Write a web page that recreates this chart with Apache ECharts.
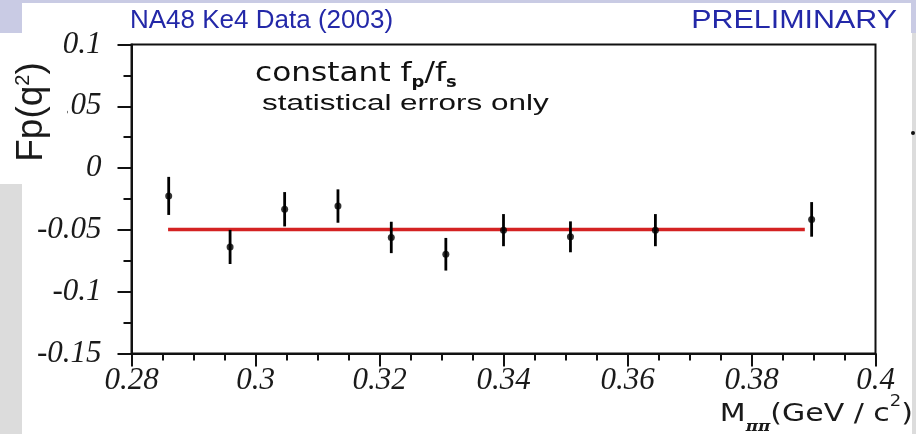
<!DOCTYPE html>
<html>
<head>
<meta charset="utf-8">
<title>NA48 Ke4 Fp(q²)</title>
<script src="https://cdn.jsdelivr.net/npm/echarts@6/dist/echarts.min.js"></script>
<style>
  html, body { margin: 0; padding: 0; background: #ffffff; }
  #chart { width: 916px; height: 434px; }
</style>
</head>
<body>
<div id="chart"></div>
<script>
// Fp form factor vs dipion invariant mass (NA48 Ke4, 2003 data)
const mpp = [0.2860, 0.2959, 0.3047, 0.3133, 0.3219, 0.3307, 0.3400, 0.3508, 0.3645, 0.3897];
const fp = [-0.0225, -0.0638, -0.0333, -0.0307, -0.0561, -0.0697, -0.0502, -0.0556, -0.0502, -0.0415];
const fpErr = [0.0154, 0.0138, 0.0139, 0.0135, 0.0127, 0.0132, 0.0130, 0.0125, 0.0130, 0.0140];

// constant fit of Fp over the fitted mass range
const fitRange = [0.2859, 0.3886];
const fitValue = -0.0496;

const xTickLabels = ['0.28', '0.3', '0.32', '0.34', '0.36', '0.38', '0.4'];
const yTickLabels = ['-0.15', '-0.1', '-0.05', '0', '0.05', '0.1'];

const chart = echarts.init(document.getElementById('chart'), null, { renderer: 'canvas' });

const ink = '#111111';
const tickFont = { fontFamily: 'Liberation Serif', fontStyle: 'italic', fontSize: 31, color: '#1a1a1a' };
const lavender = '#c9cbe4';
const panelGrey = '#dcdcdc';

const option = {
  animation: false,
  backgroundColor: '#ffffff',
  grid: {
    left: 131.5, right: 40.5, top: 44.5, bottom: 80.5,
    show: true, borderColor: ink, borderWidth: 2, backgroundColor: 'transparent'
  },
  xAxis: {
    type: 'value', min: 0.28, max: 0.4, interval: 0.02,
    splitLine: { show: false },
    axisLine: { show: true, onZero: false, lineStyle: { color: ink, width: 2 } },
    axisTick: { show: true, inside: false, length: 13, lineStyle: { color: ink, width: 2 } },
    minorTick: { show: true, splitNumber: 4, length: 7, lineStyle: { color: ink, width: 2 } },
    axisLabel: Object.assign({ margin: 12, formatter: (v, i) => xTickLabels[i] }, tickFont)
  },
  yAxis: {
    type: 'value', min: -0.15, max: 0.1, interval: 0.05,
    splitLine: { show: false },
    axisLine: { show: true, onZero: false, lineStyle: { color: ink, width: 2 } },
    axisTick: { show: true, inside: false, length: 14, lineStyle: { color: ink, width: 2 } },
    minorTick: { show: true, splitNumber: 2, length: 8, lineStyle: { color: ink, width: 2 } },
    axisLabel: Object.assign({ margin: 30, formatter: (v, i) => yTickLabels[i] }, tickFont)
  },
  series: [
    {
      name: 'fit',
      type: 'line',
      data: [[fitRange[0], fitValue], [fitRange[1], fitValue]],
      showSymbol: false,
      lineStyle: { color: '#d42222', width: 3.5 },
      z: 2
    },
    {
      name: 'errors',
      type: 'custom',
      data: mpp.map((x, i) => [x, fp[i] - fpErr[i], fp[i] + fpErr[i]]),
      encode: { x: 0, y: [1, 2] },
      renderItem: (params, api) => {
        const lo = api.coord([api.value(0), api.value(1)]);
        const hi = api.coord([api.value(0), api.value(2)]);
        return {
          type: 'line',
          shape: { x1: lo[0], y1: lo[1], x2: hi[0], y2: hi[1] },
          style: { stroke: '#000000', lineWidth: 2.8 }
        };
      },
      z: 3
    },
    {
      name: 'Fp',
      type: 'scatter',
      data: mpp.map((x, i) => [x, fp[i]]),
      symbol: 'circle',
      symbolSize: 7,
      itemStyle: { color: '#000000' },
      z: 4
    }
  ],
  graphic: [
    // slide frame panels
    { type: 'rect', shape: { x: 0, y: 0, width: 916, height: 3 }, style: { fill: lavender }, z: 0 },
    { type: 'rect', shape: { x: 0, y: 0, width: 22, height: 33 }, style: { fill: lavender }, z: 0 },
    { type: 'rect', shape: { x: 0, y: 184, width: 22, height: 250 }, style: { fill: panelGrey }, z: 0 },
    { type: 'rect', shape: { x: 911, y: 0, width: 5, height: 33 }, style: { fill: lavender }, z: 0 },
    { type: 'rect', shape: { x: 912, y: 33, width: 4, height: 401 }, style: { fill: panelGrey }, z: 0 },
    { type: 'circle', shape: { cx: 913, cy: 133, r: 2 }, style: { fill: '#111111' }, z: 5 },
    // y-axis title backing
    { type: 'rect', shape: { x: 22, y: 82, width: 45, height: 45 }, style: { fill: '#ffffff' }, z: 50 },
    // headings
    {
      type: 'text', x: 130, y: 21, scaleX: 1.0, z: 60,
      style: {
        text: 'NA48 Ke4 Data (2003)', x: 0, y: 0,
        fontFamily: 'Liberation Sans', fontSize: 26,
        fill: '#2328a8', textAlign: 'left', textVerticalAlign: 'middle'
      }
    },
    {
      type: 'text', x: 897, y: 21, scaleX: 1.17, z: 60,
      style: {
        text: 'PRELIMINARY', x: 0, y: 0,
        fontFamily: 'Liberation Sans', fontSize: 26,
        fill: '#2328a8', textAlign: 'right', textVerticalAlign: 'middle'
      }
    },
    // y-axis title
    {
      type: 'text', x: 32, y: 112, rotation: Math.PI / 2, z: 60,
      style: {
        text: 'Fp(q{sup|2})', x: 0, y: 0,
        fontFamily: 'Liberation Sans', fontSize: 37, lineHeight: 37,
        fill: '#1a1a1a', textAlign: 'center', textVerticalAlign: 'middle',
        rich: {
          sup: { fontFamily: 'Liberation Sans', fontSize: 20, lineHeight: 20, verticalAlign: 'top', fill: '#1a1a1a' }
        }
      }
    },
    // x-axis title
    {
      type: 'text', x: 913, y: 394.5, scaleX: 1.2, z: 60,
      style: {
        text: 'M{sub|ππ}(GeV / c{sup|2})', x: 0, y: 0,
        fontFamily: 'DejaVu Sans', fontSize: 25, lineHeight: 40,
        fill: '#1a1a1a', textAlign: 'right', textVerticalAlign: 'top',
        rich: {
          sub: { fontFamily: 'DejaVu Serif', fontStyle: 'italic', fontWeight: 'bold', fontSize: 14, lineHeight: 14, verticalAlign: 'bottom', fill: '#1a1a1a' },
          sup: { fontFamily: 'DejaVu Sans', fontSize: 15, lineHeight: 32, verticalAlign: 'top', fill: '#1a1a1a' }
        }
      }
    },
    // annotations
    {
      type: 'text', x: 255, y: 58.2, scaleX: 1.2, z: 60,
      style: {
        text: 'constant f{sub|p}/f{sub|s}', x: 0, y: 0,
        fontFamily: 'DejaVu Sans', fontSize: 26, lineHeight: 32,
        fill: '#111111', textAlign: 'left', textVerticalAlign: 'top',
        rich: {
          sub: { fontFamily: 'DejaVu Sans', fontWeight: 'bold', fontSize: 15, lineHeight: 15, verticalAlign: 'bottom', fill: '#111111' }
        }
      }
    },
    {
      type: 'text', x: 262, y: 104.4, scaleX: 1.43, z: 60,
      style: {
        text: 'statistical errors only', x: 0, y: 0,
        fontFamily: 'Liberation Sans', fontSize: 22,
        fill: '#111111', textAlign: 'left', textVerticalAlign: 'middle'
      }
    }
  ]
};

chart.setOption(option);
</script>
</body>
</html>
